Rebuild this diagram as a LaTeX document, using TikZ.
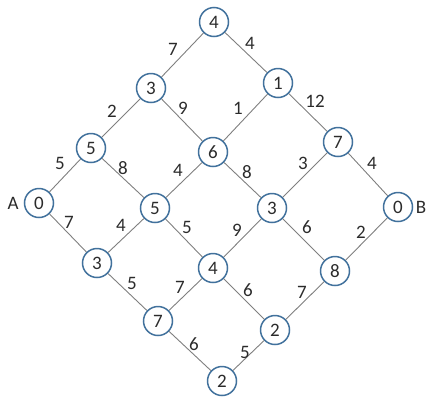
\documentclass[tikz,border=0pt]{standalone}
\usepackage{fontspec}
\setmainfont{Carlito}
\definecolor{ringblue}{HTML}{41719C}
\definecolor{edgegray}{HTML}{7F7F7F}
\definecolor{txt}{HTML}{2B2B2B}
\begin{document}
\begin{tikzpicture}[x=1pt,y=-1pt,
  vtx/.style={circle,draw=ringblue,line width=1.5pt,fill=white,minimum size=29pt,inner sep=0pt,font=\fontsize{19}{19}\selectfont,text=txt},
  wt/.style={font=\fontsize{19}{19}\selectfont,text=txt,inner sep=0pt},
  edge/.style={draw=edgegray,line width=0.9pt}]
\useasboundingbox (0,0) rectangle (427,397);
% nodes
\node[vtx] (t4) at (214,22) {4};
\node[vtx] (n1) at (278,83) {1};
\node[vtx] (r7) at (338,142) {7};
\node[vtx] (B) at (398,207) {0};
\node[vtx] (u3) at (151,88) {3};
\node[vtx] (c6) at (213,152) {6};
\node[vtx] (m3) at (272,208) {3};
\node[vtx] (e8) at (335,271) {8};
\node[vtx] (l5) at (91,148) {5};
\node[vtx] (m5) at (155,208) {5};
\node[vtx] (m4) at (213,268) {4};
\node[vtx] (r2) at (275,330) {2};
\node[vtx] (A) at (39,203) {0};
\node[vtx] (l3) at (97,263) {3};
\node[vtx] (l7) at (158,321) {7};
\node[vtx] (b2) at (222,381) {2};
\node[wt] (la) at (13,203) {A};
\node[wt] (lb) at (421,207) {B};
% edges
\draw[edge] (A) -- (l5);
\draw[edge] (l5) -- (u3);
\draw[edge] (u3) -- (t4);
\draw[edge] (t4) -- (n1);
\draw[edge] (n1) -- (r7);
\draw[edge] (r7) -- (B);
\draw[edge] (u3) -- (c6);
\draw[edge] (c6) -- (n1);
\draw[edge] (l5) -- (m5);
\draw[edge] (m5) -- (c6);
\draw[edge] (c6) -- (m3);
\draw[edge] (m3) -- (r7);
\draw[edge] (A) -- (l3);
\draw[edge] (l3) -- (m5);
\draw[edge] (m5) -- (m4);
\draw[edge] (m4) -- (m3);
\draw[edge] (m3) -- (e8);
\draw[edge] (e8) -- (B);
\draw[edge] (l3) -- (l7);
\draw[edge] (l7) -- (m4);
\draw[edge] (m4) -- (r2);
\draw[edge] (r2) -- (e8);
\draw[edge] (l7) -- (b2);
\draw[edge] (b2) -- (r2);
% weights
\node[wt] (w1) at (60,163) {5};
\node[wt] (w2) at (112,111) {2};
\node[wt] (w3) at (173,49) {7};
\node[wt] (w4) at (250,43) {4};
\node[wt] (w5) at (315,101) {12};
\node[wt] (w6) at (372,163) {4};
\node[wt] (w7) at (183,108) {9};
\node[wt] (w8) at (238,108) {1};
\node[wt] (w9) at (123,168) {8};
\node[wt] (w10) at (178,170) {4};
\node[wt] (w11) at (247,172) {8};
\node[wt] (w12) at (303,163) {3};
\node[wt] (w13) at (69,222) {7};
\node[wt] (w14) at (121,225) {4};
\node[wt] (w15) at (187,227) {5};
\node[wt] (w16) at (237,230) {9};
\node[wt] (w17) at (307,227) {6};
\node[wt] (w18) at (361,232) {2};
\node[wt] (w19) at (132,283) {5};
\node[wt] (w20) at (180,287) {7};
\node[wt] (w21) at (248,290) {6};
\node[wt] (w22) at (302,292) {7};
\node[wt] (w23) at (194,344) {6};
\node[wt] (w24) at (245,352) {5};
\end{tikzpicture}
\end{document}
